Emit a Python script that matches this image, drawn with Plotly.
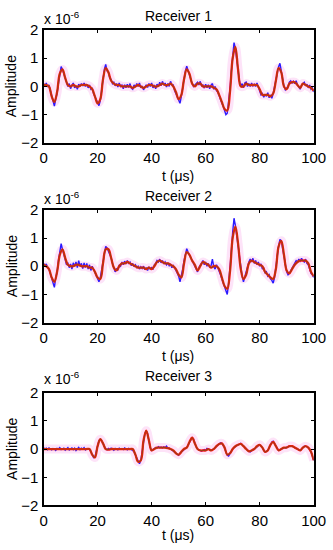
import plotly.graph_objects as go

# ---------------- data (amplitude in units of 1e-6) ----------------
t_red = list(range(0, 101))             # 1 us grid
t_blue = [i * 0.5 for i in range(201)]  # 0.5 us grid

red1 = [0.05, 0.05, 0.0, -0.35, -0.55, -0.2, 0.45, 0.6, 0.3, 0.05,
        0.0, 0.05, 0.0, 0.0, 0.05, 0.05, 0.05, 0.0, -0.1, -0.35,
        -0.6, -0.45, 0.25, 0.65, 0.5, 0.2, 0.1, 0.05, 0.05, 0.0,
        0.0, 0.0, 0.0, -0.05, 0.0, 0.05, 0.0, -0.05, 0.0, 0.05,
        0.05, 0.0, 0.0, 0.05, 0.1, 0.05, 0.05, 0.1, 0.0, -0.2,
        -0.45, -0.3, 0.25, 0.6, 0.45, 0.1, 0.0, 0.1, 0.1, 0.0,
        0.0, 0.0, 0.0, -0.05, -0.1, -0.3, -0.55, -0.8, -0.85, -0.2,
        1.0, 1.4, 0.6, 0.0, 0.0, 0.1, 0.05, 0.05, 0.05, 0.05,
        -0.1, -0.3, -0.3, -0.3, -0.35, -0.25, 0.2, 0.65, 0.5, 0.0,
        -0.1, 0.1, 0.15, 0.15, 0.05, -0.05, 0.1, 0.05, 0.0, -0.05,
        -0.15]

blue1 = [0.1, 0.0, 0.12, -0.02, 0.05, -0.15, -0.4, -0.55, -0.7, -0.45,
         -0.25, 0.1, 0.5, 0.7, 0.6, 0.45, 0.3, 0.1, 0.0, 0.1,
         -0.08, 0.05, 0.12, -0.05, 0.02, -0.1, 0.08, 0.0, 0.1, 0.02,
         0.12, 0.0, 0.08, -0.05, 0.05, -0.1, -0.05, -0.25, -0.35, -0.5,
         -0.6, -0.68, -0.5, -0.1, 0.3, 0.6, 0.78, 0.55, 0.5, 0.3,
         0.25, 0.1, 0.15, 0.02, 0.1, -0.02, 0.12, 0.0, 0.05, -0.08,
         0.06, -0.05, 0.08, -0.04, 0.1, -0.06, -0.1, 0.05, -0.02, 0.1,
         0.0, 0.12, -0.05, 0.02, -0.12, 0.0, 0.06, -0.04, 0.1, 0.0,
         0.12, -0.05, 0.05, -0.08, 0.08, 0.0, 0.15, 0.02, 0.18, 0.05,
         0.12, -0.02, 0.1, 0.0, 0.18, 0.05, 0.05, -0.15, -0.25, -0.4,
         -0.5, -0.6, -0.35, -0.05, 0.3, 0.55, 0.72, 0.55, 0.45, 0.25,
         0.1, 0.0, 0.05, 0.12, 0.15, 0.05, 0.18, 0.02, 0.05, -0.06,
         0.08, -0.05, 0.06, -0.08, 0.05, 0.1, -0.1, 0.0, -0.15, -0.2,
         -0.35, -0.45, -0.6, -0.7, -0.85, -1.0, -0.95, -0.6, -0.1, 0.5,
         1.2, 1.55, 1.35, 0.95, 0.55, 0.2, 0.0, 0.1, -0.05, 0.12,
         0.15, 0.0, 0.1, 0.0, 0.12, 0.02, 0.08, 0.0, 0.12, 0.0,
         -0.15, -0.3, -0.25, -0.38, -0.28, -0.35, -0.22, -0.4, -0.3, -0.42,
         -0.25, 0.0, 0.25, 0.5, 0.7, 0.82, 0.5, 0.25, 0.0, -0.12,
         -0.05, 0.0, 0.15, 0.2, 0.12, 0.18, 0.1, 0.2, 0.05, -0.02,
         -0.1, 0.05, 0.1, 0.15, 0.02, 0.08, -0.05, 0.05, -0.1, -0.05,
         -0.2]

red2 = [0.05, 0.0, -0.1, -0.4, -0.55, -0.2, 0.4, 0.6, 0.3, 0.05,
        0.0, 0.0, 0.05, 0.05, 0.0, 0.0, 0.0, -0.05, -0.05, -0.2,
        -0.4, -0.45, 0.1, 0.6, 0.6, 0.3, -0.05, -0.15, 0.0, 0.1,
        0.1, 0.15, 0.1, 0.05, 0.0, -0.05, -0.05, -0.05, -0.1, -0.05,
        -0.1, 0.0, 0.15, 0.2, 0.15, 0.1, 0.1, 0.05, 0.0, -0.1,
        -0.3, -0.4, 0.1, 0.5, 0.4, 0.2, 0.05, -0.15, 0.0, 0.15,
        0.1, 0.05, -0.05, 0.0, 0.0, -0.1, -0.4, -0.7, -0.8, -0.2,
        1.0, 1.4, 0.8, -0.1, -0.45, -0.3, 0.1, 0.2, 0.15, 0.1,
        0.05, 0.0, -0.2, -0.3, -0.4, -0.45, -0.1, 0.7, 0.9, 0.4,
        -0.15, -0.25, -0.1, 0.05, 0.15, 0.2, 0.2, 0.2, 0.1, -0.2,
        -0.35]

blue2 = [0.1, 0.0, 0.08, -0.05, -0.1, -0.25, -0.45, -0.6, -0.75, -0.4,
         -0.2, 0.2, 0.55, 0.8, 0.6, 0.4, 0.3, 0.05, 0.1, -0.05,
         0.08, -0.1, 0.12, 0.0, 0.15, -0.05, 0.2, 0.0, 0.1, -0.08,
         0.12, -0.05, 0.1, -0.1, 0.05, -0.15, 0.0, -0.12, -0.25, -0.35,
         -0.45, -0.55, -0.4, -0.1, 0.2, 0.5, 0.7, 0.65, 0.55, 0.4,
         0.3, 0.1, -0.05, -0.2, -0.1, -0.15, 0.05, 0.0, 0.15, 0.05,
         0.18, 0.08, 0.2, 0.1, 0.15, 0.02, 0.1, -0.02, 0.05, -0.05,
         0.0, -0.1, -0.02, -0.08, 0.0, -0.12, -0.05, -0.15, -0.02, -0.1,
         -0.05, -0.12, 0.05, 0.1, 0.2, 0.15, 0.25, 0.12, 0.2, 0.08,
         0.15, 0.05, 0.12, 0.02, 0.08, -0.05, 0.02, -0.1, -0.15, -0.25,
         -0.35, -0.55, -0.35, -0.1, 0.2, 0.45, 0.62, 0.5, 0.4, 0.3,
         0.2, 0.05, 0.0, -0.15, -0.2, -0.05, 0.05, 0.1, 0.2, 0.05,
         0.15, 0.0, 0.1, -0.05, 0.02, 0.25, -0.02, -0.1, 0.05, -0.05,
         -0.15, -0.3, -0.45, -0.6, -0.75, -0.9, -1.0, -0.6, -0.15, 0.5,
         1.2, 1.7, 1.45, 1.1, 0.75, 0.3, -0.1, -0.35, -0.55, -0.35,
         -0.25, 0.05, 0.15, 0.25, 0.15, 0.28, 0.1, 0.2, 0.05, 0.15,
         0.0, 0.08, -0.1, -0.05, -0.25, -0.2, -0.35, -0.3, -0.45, -0.5,
         -0.6, -0.4, -0.1, 0.35, 0.7, 0.95, 0.9, 0.65, 0.35, 0.05,
         -0.2, -0.3, -0.25, -0.15, -0.05, 0.05, 0.1, 0.2, 0.15, 0.25,
         0.18, 0.28, 0.2, 0.15, 0.25, 0.1, 0.05, -0.1, -0.25, -0.3,
         -0.4]

red3 = [0.0, 0.0, 0.0, 0.0, 0.0, 0.0, 0.0, 0.0, 0.0, 0.0,
        0.0, 0.0, 0.0, 0.0, 0.0, 0.0, 0.0, 0.0, -0.2, -0.3,
        0.1, 0.35, 0.2, 0.0, -0.02, 0.0, 0.0, 0.0, 0.0, 0.0,
        0.0, 0.0, 0.0, 0.0, -0.2, -0.45, -0.4, 0.3, 0.65, 0.3,
        -0.05, 0.0, 0.05, 0.05, 0.05, 0.05, 0.03, 0.0, -0.05, -0.15,
        -0.2, -0.1, 0.0, 0.05, 0.25, 0.4, 0.2, 0.0, -0.05, -0.05,
        -0.05, 0.0, -0.05, 0.0, 0.1, 0.18, 0.2, 0.05, -0.2, -0.15,
        0.0, 0.1, 0.15, 0.18, 0.1, 0.0, -0.08, -0.05, 0.0, 0.1,
        0.15, 0.05, -0.1, -0.05, 0.15, 0.25, 0.1, -0.05, 0.0, 0.05,
        0.05, 0.1, 0.1, 0.05, 0.0, -0.05, 0.05, 0.1, 0.05, -0.1,
        -0.4]

blue3 = [0.05, 0.0, 0.03, -0.02, 0.04, 0.0, -0.03, 0.02, 0.0, -0.05,
         0.02, 0.0, 0.05, -0.02, 0.0, 0.03, -0.04, 0.02, 0.05, -0.03,
         0.0, 0.04, -0.02, 0.03, -0.05, 0.02, 0.06, -0.02, 0.03, 0.0,
         0.05, -0.03, 0.02, 0.0, -0.02, -0.08, -0.2, -0.3, -0.28, -0.1,
         0.12, 0.3, 0.35, 0.3, 0.2, 0.08, 0.0, -0.03, 0.02, -0.02,
         0.03, 0.0, -0.04, 0.02, 0.0, -0.03, 0.03, 0.0, 0.02, -0.02,
         0.04, 0.0, -0.03, 0.02, 0.0, -0.03, -0.05, -0.1, -0.2, -0.35,
         -0.45, -0.52, -0.4, -0.1, 0.3, 0.55, 0.65, 0.55, 0.3, 0.05,
         -0.05, 0.0, 0.02, 0.05, 0.03, 0.08, 0.05, 0.07, 0.04, 0.08,
         0.05, 0.1, 0.03, 0.04, 0.0, -0.02, -0.05, -0.1, -0.15, -0.2,
         -0.22, -0.15, -0.1, -0.05, 0.0, 0.02, 0.05, 0.15, 0.25, 0.35,
         0.4, 0.35, 0.2, 0.08, 0.0, -0.03, -0.05, -0.08, -0.05, -0.02,
         -0.05, 0.02, 0.0, -0.03, -0.05, -0.02, 0.0, 0.05, 0.1, 0.15,
         0.18, 0.22, 0.2, 0.12, 0.05, -0.1, -0.22, -0.25, -0.15, -0.05,
         0.0, 0.05, 0.1, 0.12, 0.15, 0.17, 0.2, 0.15, 0.1, 0.05,
         0.0, -0.05, -0.08, -0.1, -0.05, -0.02, 0.0, 0.05, 0.1, 0.12,
         0.15, 0.1, 0.05, -0.05, -0.1, -0.08, -0.05, 0.05, 0.15, 0.25,
         0.28, 0.2, 0.1, 0.02, -0.05, -0.03, 0.0, 0.03, 0.05, 0.04,
         0.05, 0.08, 0.1, 0.12, 0.1, 0.08, 0.05, 0.02, 0.0, -0.03,
         -0.05, 0.0, 0.05, 0.1, 0.1, 0.08, 0.05, -0.02, -0.1, -0.25,
         -0.4]

titles = ["Receiver 1", "Receiver 2", "Receiver 3"]
x_ticks = [0, 20, 40, 60, 80, 100]
y_ticks = [-2, -1, 0, 1, 2]
x_label = "t (\u03bcs)"
y_label = "Amplitude"
exp_label = "x 10<sup>-6</sup>"

# ---------------- layout geometry ----------------
# the page is shown slightly scaled; convert target picture pixels to page pixels
W, H = 346, 566
SX, SY, OX, OY = 0.961, 0.971, 3.0, 8.0


def px(s):
    return (s - OX) / SX / W


def py(s):
    return 1 - (s - OY) / SY / H


X0, X1 = 43, 316
panels = [(29, 142), (209, 322), (392, 505)]   # top, bottom (picture px)
title_y = [15, 195, 375]
exp_y = [17, 197, 377]
xlabel_y = [175, 355, 535]

FONT = "Liberation Sans, Arial, Helvetica, sans-serif"
TXT = 14
TICK = 15

fig = go.Figure()
series = [(red1, blue1), (red2, blue2), (red3, blue3)]
for k, (red, blue) in enumerate(series):
    xa = "x" if k == 0 else f"x{k+1}"
    ya = "y" if k == 0 else f"y{k+1}"
    fig.add_trace(go.Scatter(x=t_red, y=red, mode="lines", xaxis=xa, yaxis=ya,
                             line=dict(color="rgba(250,175,235,0.35)", width=9, shape="spline"),
                             hoverinfo="skip", showlegend=False))
    fig.add_trace(go.Scatter(x=t_blue, y=blue, mode="lines", xaxis=xa, yaxis=ya,
                             line=dict(color="#2a1aff", width=1.4),
                             showlegend=False))
    fig.add_trace(go.Scatter(x=t_red, y=red, mode="lines", xaxis=xa, yaxis=ya,
                             line=dict(color="#ff1a10", width=2.3, shape="spline"),
                             showlegend=False))
    fig.add_trace(go.Scatter(x=t_red, y=red, mode="lines", xaxis=xa, yaxis=ya,
                             line=dict(color="rgba(80,90,20,0.55)", width=1.1, shape="spline"),
                             showlegend=False))

axis_common = dict(showline=True, linecolor="black", linewidth=2.3, mirror="allticks",
                   ticks="inside", ticklen=3, tickwidth=1.2, tickcolor="black",
                   showgrid=False, zeroline=False,
                   tickfont=dict(family=FONT, size=TICK, color="black"))

layout = dict(width=W, height=H, margin=dict(l=0, r=0, t=0, b=0),
              plot_bgcolor="white", paper_bgcolor="white", showlegend=False)
annotations = []
for k, (top, bot) in enumerate(panels):
    sx = "" if k == 0 else str(k + 1)
    layout[f"xaxis{sx}"] = dict(domain=[px(X0), px(X1)], range=[0, 100],
                                tickvals=x_ticks, anchor=f"y{sx}", **axis_common)
    layout[f"yaxis{sx}"] = dict(domain=[py(bot), py(top)], range=[-2, 2],
                                tickvals=y_ticks, anchor=f"x{sx}", **axis_common)
    annotations.append(dict(text=titles[k], x=px((X0 + X1) / 2), y=py(title_y[k]),
                            xref="paper", yref="paper", showarrow=False,
                            xanchor="center", yanchor="middle",
                            font=dict(family=FONT, size=TXT, color="black")))
    annotations.append(dict(text=exp_label, x=px(X0 - 2), y=py(exp_y[k]),
                            xref="paper", yref="paper", showarrow=False,
                            xanchor="left", yanchor="middle",
                            font=dict(family=FONT, size=TXT, color="black")))
    annotations.append(dict(text=y_label, x=px(11), y=py((top + bot) / 2),
                            xref="paper", yref="paper", showarrow=False, textangle=-90,
                            xanchor="center", yanchor="middle",
                            font=dict(family=FONT, size=TXT, color="black")))
    annotations.append(dict(text=x_label, x=px(179), y=py(xlabel_y[k]),
                            xref="paper", yref="paper", showarrow=False,
                            xanchor="center", yanchor="middle",
                            font=dict(family=FONT, size=TXT, color="black")))
layout["annotations"] = annotations
fig.update_layout(**layout)
fig.write_html("out.html", config={"displayModeBar": False},
               post_script="document.body.style.margin='0';document.body.style.overflow='hidden';")
